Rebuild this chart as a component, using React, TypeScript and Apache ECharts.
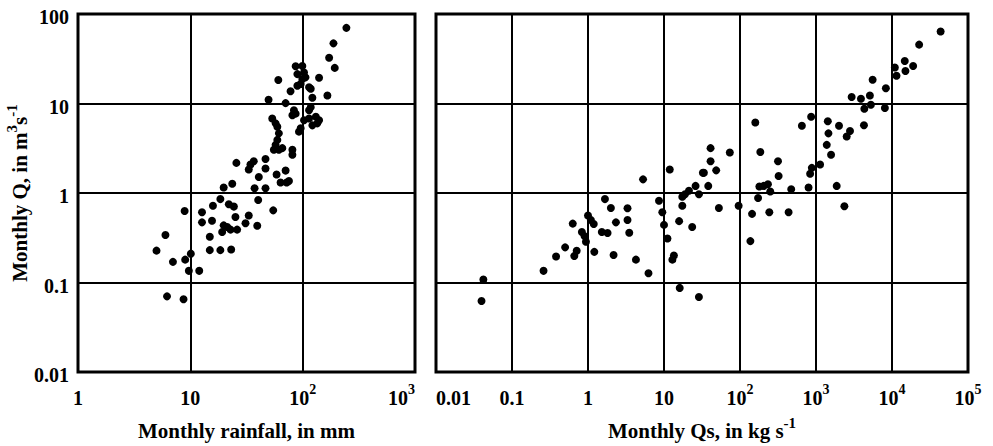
import React, { useEffect, useRef } from "react";
import * as echarts from "echarts";

// Left panel: monthly rainfall (mm) vs monthly Q (m3/s)
const rainfall = [
  245, 188, 172, 193, 166, 140,
  86.6, 99.3, 102.8, 89.7, 99.3, 106,
  89.7, 96, 114, 118, 78, 122,
  60.7, 49.7, 70.5,
  83.6, 81, 86.6, 118, 114,
  53.6, 57.4, 59.5,
  102.8, 114, 131, 140, 135, 122, 96, 92.7,
  61.4, 59.5, 57.4, 55.4, 61.4, 65.9, 81, 81,
  46.7, 36.7, 25.7, 34.3, 33.1, 46.7, 70.5, 58.6, 40.7, 72, 63.6, 75.5, 19.8, 23.6, 37.3, 46.7,
  18.5, 40.2, 15.9, 22, 24.4, 54.7, 12.7, 8.9, 12.7, 15.6, 25.2, 33.1, 31, 19.8, 21.3, 22.8, 19.2, 26.1, 39.4,
  14.9, 6.0, 5.0, 10.1, 14.9, 18.5, 23.1, 7.0, 9.0, 9.7, 12, 6.2, 8.7,
];
const monthlyQLeft = [
  70, 47, 32.5, 25, 12.3, 19.4,
  26.1, 26.2, 22.2, 21.3, 18.8, 19.6,
  15.8, 16.5, 15.2, 14.6, 13.7, 11.6,
  18.3, 11, 10.1,
  8.4, 7.4, 7.7, 9.1, 8.4,
  6.8, 6.0, 5.5,
  6.5, 6.8, 7.1, 6.5, 6.0, 5.7, 5.3, 4.85,
  4.64, 3.92, 3.45, 3.04, 3.04, 3.17, 3.04, 2.68,
  2.4, 2.26, 2.17, 2.08, 1.83, 1.88, 1.78, 1.61, 1.51, 1.31, 1.31, 1.36, 1.15, 1.27, 1.13, 1.13,
  0.855, 0.834, 0.72, 0.75, 0.705, 0.64, 0.61, 0.63, 0.47, 0.49, 0.54, 0.56, 0.46, 0.435, 0.417, 0.39, 0.367, 0.39, 0.43,
  0.324, 0.34, 0.227, 0.21, 0.23, 0.23, 0.234, 0.17, 0.18, 0.135, 0.135, 0.07, 0.065,
];

// Right panel: monthly Qs (kg/s) vs monthly Q (m3/s)
const monthlyQs = [
  0.042, 0.0397, 0.26, 0.38, 0.5, 0.66, 0.71, 0.63, 0.83, 0.9, 0.94, 1.0, 1.09, 1.19, 1.21,
  1.67, 2.0, 1.52, 1.81, 2.33, 2.17, 3.31, 3.31, 3.49, 4.27, 5.3, 6.25,
  8.6, 9.5, 10, 11.1, 13.5, 12.9, 11.9, 15.8, 16.1, 23.5, 28.8,
  17.4, 18.9, 21.3, 26, 28.8, 17.4, 32.5, 38.2, 41, 41, 48.6, 52.7, 73.5, 33.5,
  96, 144, 137, 159, 185, 180, 205, 233, 250, 173, 243, 316, 322, 472, 436,
  652, 863, 798, 837, 881, 1132, 1429, 1458, 1385, 1578, 1873, 2009, 2362, 2535, 2800,
  2944, 3899, 4325, 4276, 5117, 5272, 5559, 8054, 8300, 10900, 11460, 14720, 15030, 18970, 22750, 43650,
];
const monthlyQRight = [
  0.108, 0.062, 0.135, 0.195, 0.247, 0.198, 0.226, 0.455, 0.367, 0.33, 0.285, 0.56, 0.5, 0.45, 0.22,
  0.855, 0.68, 0.367, 0.358, 0.47, 0.203, 0.675, 0.5, 0.36, 0.18, 1.42, 0.127,
  0.82, 0.61, 0.44, 0.31, 0.2, 0.18, 1.83, 0.485, 0.087, 0.417, 0.069,
  0.91, 0.97, 1.06, 1.2, 0.97, 0.72, 1.68, 1.2, 3.17, 2.26, 1.79, 0.68, 2.84, 1.68,
  0.72, 0.585, 0.29, 6.14, 2.87, 1.18, 1.2, 1.25, 1.04, 0.88, 0.61, 2.26, 1.55, 1.1, 0.61,
  5.64, 7.1, 1.15, 1.64, 1.91, 2.08, 6.34, 4.64, 3.45, 2.68, 1.2, 5.64, 0.71, 4.27, 4.92,
  11.8, 11.3, 8.75, 5.72, 12.3, 9.7, 18.4, 8.9, 14.8, 25.2, 20.4, 29.8, 23.1, 26.2, 45.5, 63.8,
];

const yTickLabels = ["0.01", "0.1", "1", "10", "100"]; // exponents -2..2
const leftXTickLabels = ["1", "10", "10^2", "10^3"]; // exponents 0..3
const rightXTickLabels = ["0.01", "0.1", "1", "10", "10^2", "10^3", "10^4", "10^5"]; // -2..5

const FONT = "'Liberation Serif', 'Times New Roman', serif";

const rich = {
  b: { fontFamily: FONT, fontWeight: "bold", fontSize: 20, color: "#000", lineHeight: 26, verticalAlign: "bottom" },
  s: { fontFamily: FONT, fontWeight: "bold", fontSize: 14, color: "#000", lineHeight: 14, verticalAlign: "top" },
};
const richTitle = {
  b: { fontFamily: FONT, fontWeight: "bold", fontSize: 21, color: "#000", lineHeight: 26, verticalAlign: "bottom" },
  s: { fontFamily: FONT, fontWeight: "bold", fontSize: 15, color: "#000", lineHeight: 14, verticalAlign: "top" },
};

function toRich(label: string): string {
  if (label.includes("^")) {
    const [base, exp] = label.split("^");
    return `{b|${base}}{s|${exp}}`;
  }
  return `{b|${label}}`;
}

function App() {
  const ref = useRef<HTMLDivElement>(null);
  useEffect(() => {
    if (!ref.current) return;
    const chart = echarts.init(ref.current, null, { renderer: "svg" });
    const splitLine = { show: true, lineStyle: { color: "#000", width: 2 } };
    const xAxisCommon = {
      type: "log" as const,
      logBase: 10,
      axisLine: { show: false },
      axisTick: { show: false },
      splitLine,
      nameLocation: "middle" as const,
      nameTextStyle: { rich: richTitle },
    };
    const scatterStyle = { color: "#000", opacity: 1 };
    chart.setOption({
      animation: false,
      backgroundColor: "#fff",
      grid: [
        { left: 78, top: 14, width: 337, height: 363, show: true, borderColor: "#000", borderWidth: 3 },
        { left: 436, top: 14, width: 532, height: 363, show: true, borderColor: "#000", borderWidth: 3 },
      ],
      xAxis: [
        {
          ...xAxisCommon,
          gridIndex: 0,
          min: 1,
          max: 1000,
          splitNumber: 3,
          name: "{b|Monthly rainfall, in mm}",
          nameGap: 43,
          axisLabel: {
            margin: 10,
            formatter: (v: number) => toRich(leftXTickLabels[Math.round(Math.log10(v))] ?? ""),
            rich,
            showMinLabel: true,
            showMaxLabel: true,
            alignMaxLabel: "right",
          },
        },
        {
          ...xAxisCommon,
          gridIndex: 1,
          min: 0.01,
          max: 100000,
          splitNumber: 7,
          name: "{b|Monthly Qs, in kg s}{s|-1}",
          nameGap: 43,
          axisLabel: {
            margin: 10,
            formatter: (v: number) => toRich(rightXTickLabels[Math.round(Math.log10(v)) + 2] ?? ""),
            rich,
            showMinLabel: true,
            showMaxLabel: true,
            alignMinLabel: "left",
          },
        },
      ],
      yAxis: [
        {
          type: "log",
          logBase: 10,
          gridIndex: 0,
          min: 0.01,
          max: 100,
          splitNumber: 4,
          axisLine: { show: false },
          axisTick: { show: false },
          splitLine,
          axisLabel: {
            margin: 9,
            formatter: (v: number) => toRich(yTickLabels[Math.round(Math.log10(v)) + 2] ?? ""),
            rich,
          },
          name: "{b|Monthly Q, in m}{s|3}{b|s}{s|-1}",
          nameLocation: "middle",
          nameGap: 46,
          nameTextStyle: { rich: richTitle },
        },
        {
          type: "log",
          logBase: 10,
          gridIndex: 1,
          min: 0.01,
          max: 100,
          splitNumber: 4,
          axisLine: { show: false },
          axisTick: { show: false },
          splitLine,
          axisLabel: { show: false },
        },
      ],
      series: [
        {
          type: "scatter",
          xAxisIndex: 0,
          yAxisIndex: 0,
          symbol: "circle",
          symbolSize: 8,
          itemStyle: scatterStyle,
          data: rainfall.map((x, i) => [x, monthlyQLeft[i]]),
        },
        {
          type: "scatter",
          xAxisIndex: 1,
          yAxisIndex: 1,
          symbol: "circle",
          symbolSize: 8,
          itemStyle: scatterStyle,
          data: monthlyQs.map((x, i) => [x, monthlyQRight[i]]),
        },
      ],
    });
    return () => chart.dispose();
  }, []);
  return (
    <div
      ref={ref}
      style={{ position: "fixed", left: 0, top: 0, width: 993, height: 446, background: "#fff" }}
    />
  );
}

export default App;
